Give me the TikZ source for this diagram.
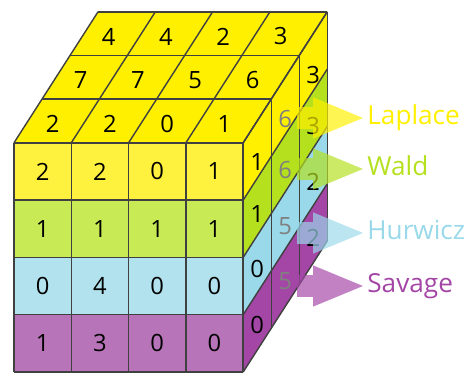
\documentclass[tikz,border=0pt]{standalone}
\usepackage{fontspec}
\setmainfont{Open Sans}
\usetikzlibrary{positioning}

\definecolor{edgeGray}{HTML}{404040}
\definecolor{yelFront}{HTML}{FFF23F}
\definecolor{yelSide}{HTML}{FFF000}
\definecolor{grnFront}{HTML}{C8EA55}
\definecolor{grnSide}{HTML}{B5E01E}
\definecolor{bluFront}{HTML}{B2E2EE}
\definecolor{bluSide}{HTML}{99D9EA}
\definecolor{purFront}{HTML}{B874B9}
\definecolor{purSide}{HTML}{A346A6}

\begin{document}
\begin{tikzpicture}[
    edge/.style={draw=edgeGray, line width=0.7pt},
    digit/.style={font=\fontsize{11.8}{14}\selectfont, inner sep=0pt},
    pointer/.style={fill opacity=0.68},
    method/.style={font=\fontsize{13}{16}\selectfont, inner sep=0pt, text height=9.5pt, text depth=3.2pt}
]
    % Define the depth step of the cube
    \def\dx{0.489}
    \def\dy{0.762}

    \useasboundingbox (-0.244,0) rectangle (7.906,6.492);

    % Fill the top face
    \fill[yelSide] (0,4) -- (4,4) -- ++(3*\dx,3*\dy) -- ++(-4,0) -- cycle;

    % Fill the layers, front and right side
    \foreach \r/\front/\side in {1/yelFront/yelSide, 2/grnFront/grnSide, 3/bluFront/bluSide, 4/purFront/purSide} {
        \fill[\front] (0,4-\r) rectangle (4,5-\r);
        \fill[\side] (4,4-\r) -- (4,5-\r) -- ++(3*\dx,3*\dy) -- ++(0,-1) -- cycle;
    }

    % Draw the grid lines
    \draw[edge] (0,0) grid (4,4);
    \foreach \k in {0,...,3} {
        \draw[edge] (\k*\dx,4+\k*\dy) -- ++(4,0);
        \draw[edge] (4+\k*\dx,\k*\dy) -- ++(0,4);
    }
    \foreach \c in {0,...,4} {
        \draw[edge] (\c,4) -- ++(3*\dx,3*\dy);
        \draw[edge] (4,\c) -- ++(3*\dx,3*\dy);
    }

    % Front face values
    \foreach \r/\vals in {1/{2,2,0,1}, 2/{1,1,1,1}, 3/{0,4,0,0}, 4/{1,3,0,0}}
        \foreach \v [count=\c] in \vals
            \node[digit] (front-\r-\c) at (\c-0.5,4.5-\r) {\v};

    % Top face values
    \foreach \k/\vals in {0/{2,2,0,1}, 1/{7,7,5,6}, 2/{4,4,2,3}}
        \foreach \v [count=\c] in \vals
            \node[digit] (top-\k-\c) at (\c-0.57+\k*\dx+0.5*\dx, 3.95+\k*\dy+0.5*\dy) {\v};

    % Right face values
    \foreach \r/\vals/\sh in {1/{1,6,3}/0.22, 2/{1,6,3}/0.12, 3/{0,5,2}/0.09, 4/{0,5,2}/0.06}
        \foreach \v [count=\k] in \vals {
            \ifnum\k=2 \def\tone{black!50}\else\def\tone{black}\fi
            \node[digit, text=\tone] (side-\r-\k) at (4+\k*\dx-0.5*\dx, 4.5-\r+\k*\dy-0.5*\dy-\sh) {\v};
        }

    % Arrows to the criteria
    \foreach \name/\txt/\y/\col in {lap/Laplace/4.433/yelSide, wal/Wald/3.543/grnSide, hur/Hurwicz/2.426/bluSide, sav/Savage/1.501/purSide} {
        \coordinate (tail-\name) at (4.94,\y);
        \fill[pointer, fill=\col] (tail-\name) ++(0,0.19) -- ++(0.28,0) -- ++(0,0.17)
            -- ++(0.87,-0.36) coordinate (tip-\name) -- ++(-0.87,-0.36) -- ++(0,0.17) -- ++(-0.28,0) -- cycle;
        \node[method, text=\col, anchor=west, right=0.07cm of tip-\name] (label-\name) {\txt};
    }

\end{tikzpicture}
\end{document}
